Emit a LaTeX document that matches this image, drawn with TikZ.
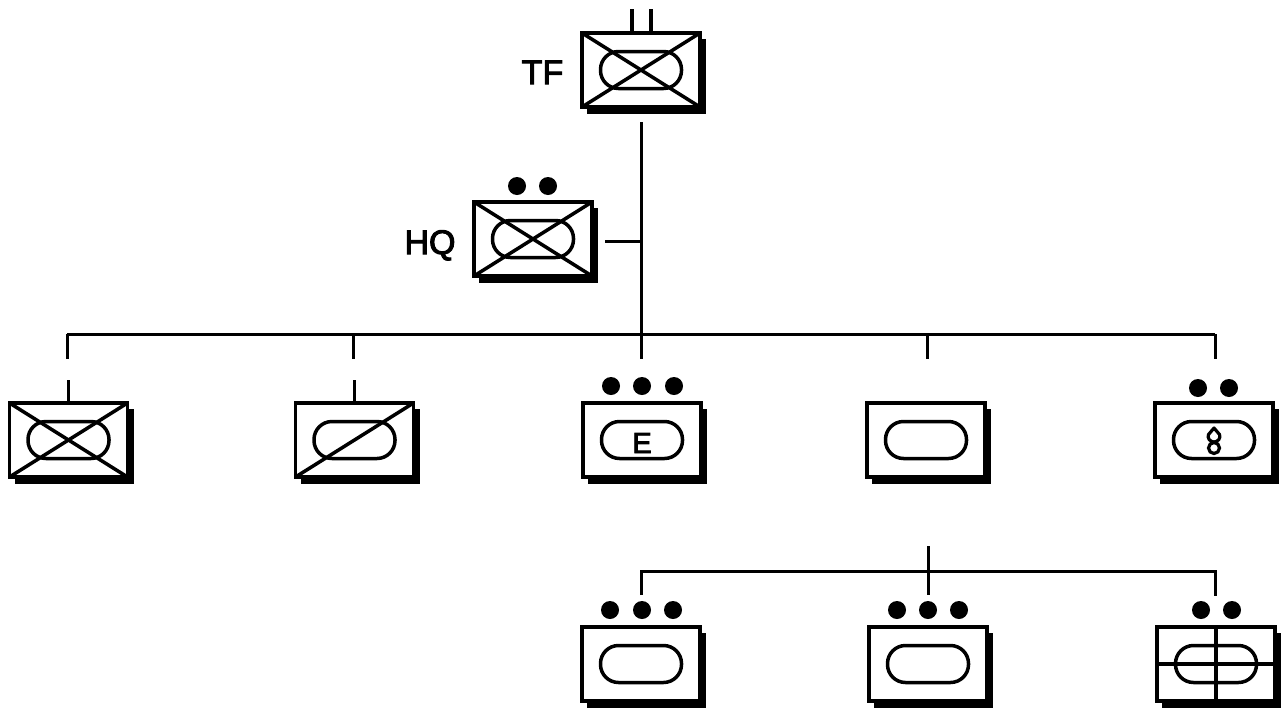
\documentclass[tikz,border=0pt]{standalone}
\usepackage{fontspec}
\setmainfont{Liberation Sans}[FakeBold=3]
\tikzset{
  x=1pt,y=-1pt,
  unitbox/.style={draw=black,fill=white,line width=3.8pt,minimum width=118pt,minimum height=74pt,inner sep=0pt,outer sep=0pt},
  shadowbox/.style={fill=black,minimum width=119pt,minimum height=75pt,inner sep=0pt,outer sep=0pt},
  ovalbox/.style={draw=black,line width=3.5pt,rounded corners=18pt,minimum width=81pt,minimum height=37pt,inner sep=0pt,outer sep=0pt},
  dotmark/.style={circle,fill=black,minimum size=18pt,inner sep=0pt,outer sep=0pt},
  symline/.style={line width=3.5pt},
  conn/.style={line width=3pt},
  stub/.style={line width=3.8pt},
  lbl/.style={font=\fontsize{34}{34}\selectfont,inner sep=0pt,anchor=base}
}
% name, x, y
\newcommand{\unitsym}[3]{%
  \node[shadowbox] (#1s) at (#2+5.5,#3+6) {};
  \node[unitbox] (#1) at (#2,#3) {};
  \node[ovalbox] (#1o) at (#2,#3) {};
}
\newcommand{\crossx}[1]{%
  \draw[symline] (#1.north west) -- (#1.south east);
  \draw[symline] (#1.south west) -- (#1.north east);
}
\begin{document}
\begin{tikzpicture}
\useasboundingbox (0,0) rectangle (1281,707);
\unitsym{tf}{641}{70}
\crossx{tf}
\node[lbl] (tfl) at (542.5,84) {TF};
\coordinate (tfa) at (632,9);
\coordinate (tfb) at (651,9);
\draw[stub] (tfa) -- (tfa |- tf.north);
\draw[stub] (tfb) -- (tfb |- tf.north);

\unitsym{hq}{533}{239}
\crossx{hq}
\node[lbl] (hql) at (430,254) {HQ};
\node[dotmark] (hqd1) at (517,186) {};
\node[dotmark] (hqd2) at (548,186) {};

\unitsym{a}{68.5}{440}
\crossx{a}
\unitsym{b}{354.5}{440}
\draw[symline] (b.south west) -- (b.north east);
\unitsym{c}{642}{440}
\node[inner sep=0pt,anchor=base,font=\fontsize{29}{29}\selectfont] (cl) at (642,453) {E};
\node[dotmark] (cd1) at (611,386) {};
\node[dotmark] (cd2) at (642,386) {};
\node[dotmark] (cd3) at (674,386) {};
\unitsym{d}{926}{440}
\unitsym{e}{1214}{440}
\node[dotmark] (ed1) at (1198,388) {};
\node[dotmark] (ed2) at (1229,388) {};
\node[draw=black,circle,line width=3.2pt,minimum size=11pt,inner sep=0pt] (ef1) at (1214,448) {};
\draw[line width=3.2pt,line join=round] (1214,428) -- (1219.5,434.5) .. controls (1221,438) and (1218,442) .. (1214,442) .. controls (1210,442) and (1207,438) .. (1208.5,434.5) -- cycle;

\unitsym{f}{641}{664}
\node[dotmark] (fd1) at (610,610) {};
\node[dotmark] (fd2) at (642,610) {};
\node[dotmark] (fd3) at (673,610) {};
\unitsym{g}{928}{664}
\node[dotmark] (gd1) at (897,610) {};
\node[dotmark] (gd2) at (928,610) {};
\node[dotmark] (gd3) at (959,610) {};
\unitsym{h}{1216}{664}
\node[dotmark] (hd1) at (1201,610) {};
\node[dotmark] (hd2) at (1232,610) {};
\draw[symline] (h.north) -- (h.south);
\draw[symline] (h.west) -- (h.east);

% connectors
\coordinate (top) at (641,122);
\coordinate (j0) at (641,334);
\coordinate (hqt) at (605,241);
\coordinate (l1) at (67,334);
\coordinate (l2) at (353,334);
\coordinate (l4) at (927,334);
\coordinate (l5) at (1215,334);
\coordinate (e1) at (67,359);
\coordinate (e2) at (353,359);
\coordinate (e3) at (641,359);
\coordinate (e4) at (927,359);
\coordinate (e5) at (1215,359);
\draw[conn] (top) -- (j0);
\draw[conn] (hqt) -- (hqt -| top);
\draw[conn] (l1) -- (l5);
\draw[conn] (l1) -- (e1);
\draw[conn] (l2) -- (e2);
\draw[conn] (j0) -- (e3);
\draw[conn] (l4) -- (e4);
\draw[conn] (l5) -- (e5);
\coordinate (s1) at (68.5,380);
\coordinate (s2) at (354.5,380);
\draw[stub] (s1) -- (a.north);
\draw[stub] (s2) -- (b.north);
\coordinate (m0) at (928,546);
\coordinate (m1) at (928,571);
\coordinate (ml) at (641,571);
\coordinate (mr) at (1215,571);
\coordinate (ml2) at (641,595);
\coordinate (m2) at (928,595);
\coordinate (mr2) at (1215,596);
\draw[conn] (m0) -- (m2);
\draw[conn] (ml2) -- (ml) -- (mr) -- (mr2);
\end{tikzpicture}
\end{document}
